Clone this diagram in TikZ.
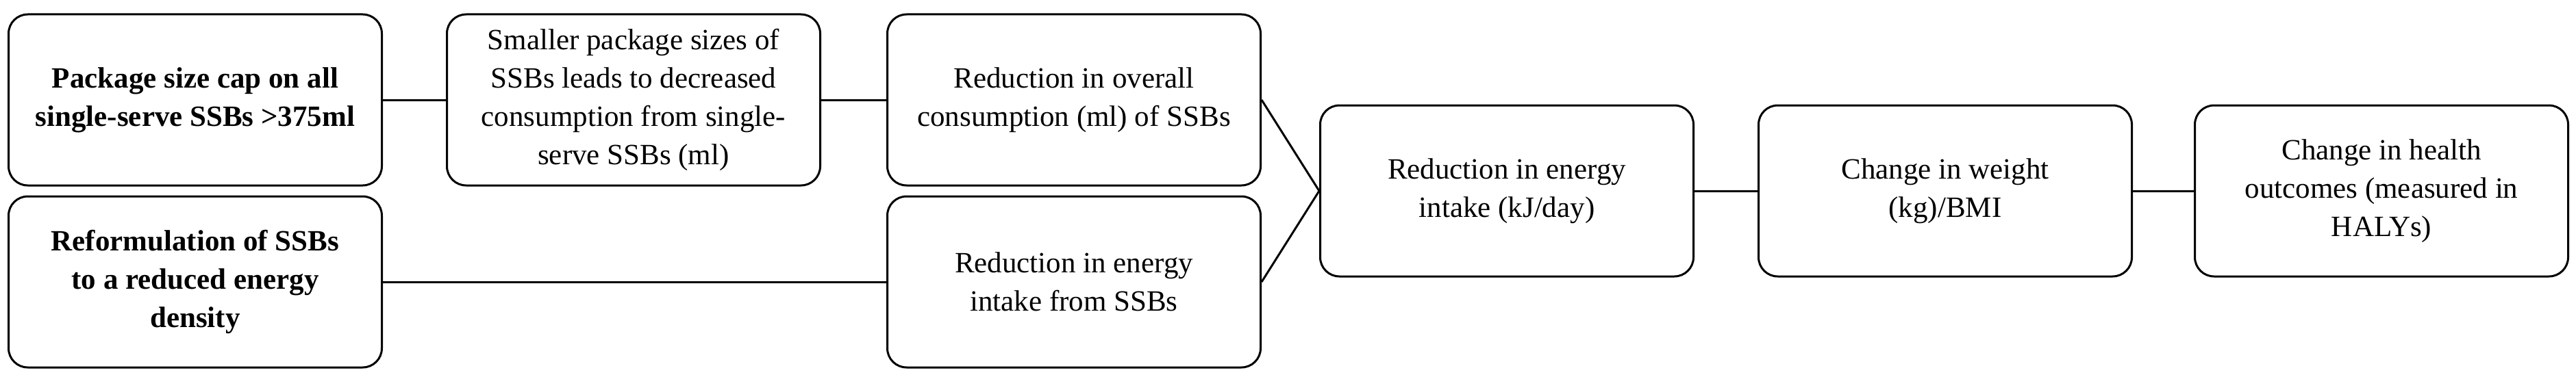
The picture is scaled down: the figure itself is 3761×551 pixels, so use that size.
\documentclass[tikz,border=0pt]{standalone}
\usepackage{fontspec}
\setmainfont{Liberation Serif}
\begin{document}
\begin{tikzpicture}[x=1pt,y=-1pt,
  bx/.style={draw=black,line width=3pt,rounded corners=28pt,minimum width=545pt,minimum height=250pt,align=center,font=\fontsize{43}{56}\selectfont,inner sep=0pt},
  ln/.style={line width=3pt}]
\useasboundingbox[fill=white] (0,0) rectangle (3761,551);
\node[bx,font=\fontsize{43}{56}\selectfont\bfseries] (a) at (285,146) {Package size cap on all\\single-serve SSBs >375ml};
\node[bx] (b) at (925,146) {Smaller package sizes of\\SSBs leads to decreased\\consumption from single-\\serve SSBs (ml)};
\node[bx] (c) at (1568,146) {Reduction in overall\\consumption (ml) of SSBs};
\node[bx,font=\fontsize{43}{56}\selectfont\bfseries] (d) at (285,412) {Reformulation of SSBs\\to a reduced energy\\density};
\node[bx] (e) at (1568,412) {Reduction in energy\\intake from SSBs};
\node[bx] (f) at (2200,279) {Reduction in energy\\intake (kJ/day)};
\node[bx] (g) at (2840,279) {Change in weight\\(kg)/BMI};
\node[bx] (h) at (3477,279) {Change in health\\outcomes (measured in\\HALYs)};
\draw[ln] (a) -- (b);
\draw[ln] (b) -- (c);
\draw[ln] (d) -- (e);
\draw[ln] (c.east) -- (f.west);
\draw[ln] (e.east) -- (f.west);
\draw[ln] (f) -- (g);
\draw[ln] (g) -- (h);
\end{tikzpicture}
\end{document}
